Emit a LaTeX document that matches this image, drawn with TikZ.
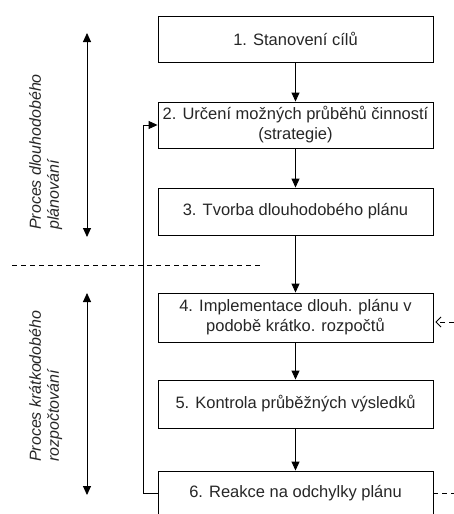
\documentclass[tikz,border=0pt]{standalone}
\usepackage{fontspec}
\setmainfont{Liberation Sans}
\usetikzlibrary{arrows.meta}
\begin{document}
\begin{tikzpicture}[x=1pt,y=1pt,
 box/.style={draw, line width=0.9pt, minimum width=275pt, inner sep=0pt, align=center, font=\fontsize{16.5}{20}\selectfont, text=black!85},
 flow/.style={line width=0.9pt, -{Triangle[length=9pt,width=8pt]}},
 spanarrow/.style={line width=0.9pt, {Triangle[length=9pt,width=8pt]}-{Triangle[length=9pt,width=8pt]}},
 side/.style={rotate=90, align=left, anchor=north west, inner sep=0pt, font=\fontsize{16}{18}\selectfont\itshape, text=black!85},
 sep/.style={dash pattern=on 5pt off 4pt, line width=0.8pt}]
\useasboundingbox (0,0) rectangle (454,-514);
\node[box, minimum height=46pt] (b1) at (295.5,-39) {1. Stanovení cílů};
\node[box, minimum height=46pt] (b2) at (295.5,-125) {2. Určení možných průběhů činností\\(strategie)};
\node[box, minimum height=47pt] (b3) at (295.5,-211.5) {3. Tvorba dlouhodobého plánu};
\node[box, minimum height=49pt] (b4) at (295.5,-317.5) {4. Implementace dlouh. plánu v\\podobě krátko. rozpočtů};
\node[box, minimum height=48pt] (b5) at (295.5,-404) {5. Kontrola průběžných výsledků};
\node[box, minimum height=44pt] (b6) at (295.5,-493) {6. Reakce na odchylky plánu};
\draw[flow] (b1) -- (b2);
\draw[flow] (b2) -- (b3);
\draw[flow] (b3) -- (b4);
\draw[flow] (b4) -- (b5);
\draw[flow] (b5) -- (b6);
\draw[flow] (b6.west) -- ++(-14,0) |- (b2.west);
\coordinate (dl) at (12,-265);
\coordinate (dr) at (262,-265);
\draw[sep] (dl) -- (dr);
\coordinate (s1t) at (87,-33);
\coordinate (s1b) at (87,-237);
\draw[spanarrow] (s1t) -- (s1b);
\coordinate (s2t) at (87,-293);
\coordinate (s2b) at (87,-495);
\draw[spanarrow] (s2t) -- (s2b);
\node[side] (l1) at (29,-230) {Proces dlouhodobého\\plánování};
\node[side] (l2) at (29,-462) {Proces krátkodobého\\rozpočtování};
\coordinate (r4) at (454,-322);
\draw[sep, -{Straight Barb[length=5pt,width=10pt]}] (r4) -- ([xshift=2pt,yshift=-4.5pt]b4.east);
\coordinate (r6) at (454,-493);
\draw[sep] (b6.east) -- (r6);
\end{tikzpicture}
\end{document}
